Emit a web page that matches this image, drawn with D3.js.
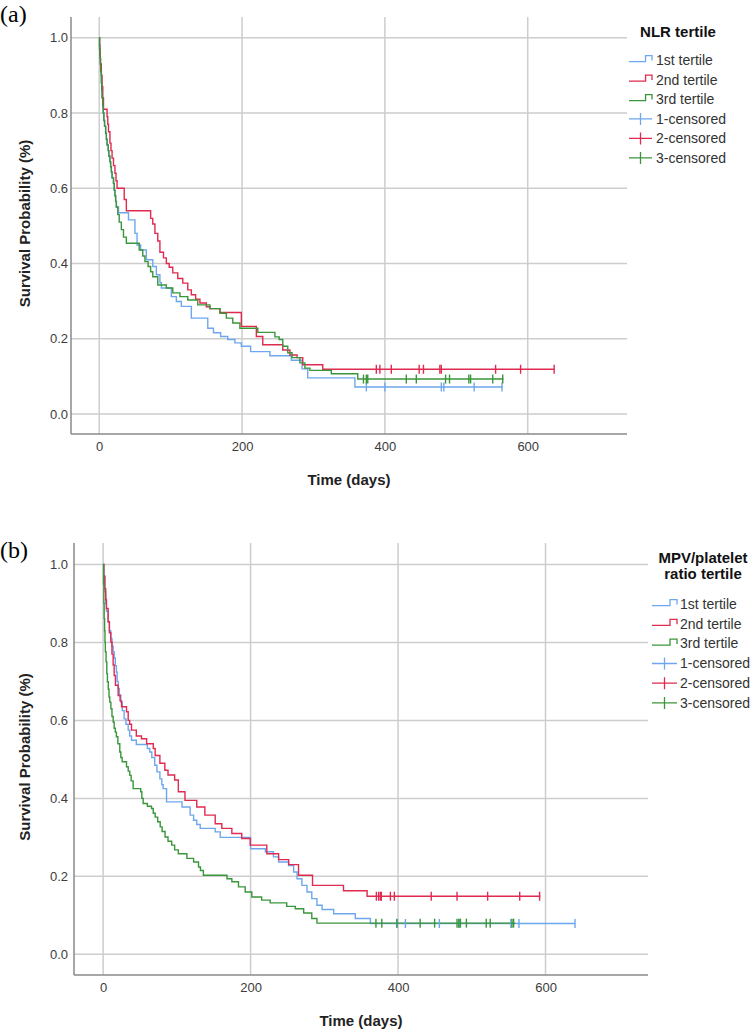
<!DOCTYPE html>
<html><head><meta charset="utf-8">
<script src="https://cdn.jsdelivr.net/npm/d3@7"></script>
<style>
html,body{margin:0;padding:0;background:#fff;}
svg{display:block;font-family:"Liberation Sans",Arial,sans-serif;}
</style></head>
<body>
<svg id="chart" width="755" height="1033"></svg>
<script>
// ---------- shared ----------
const xTicks = [0, 200, 400, 600];
const yTicks = [0.0, 0.2, 0.4, 0.6, 0.8, 1.0];
const seriesNames = ["1st tertile", "2nd tertile", "3rd tertile"];
const censorNames = ["1-censored", "2-censored", "3-censored"];
const colors = ["#6ea7ee", "#e02a50", "#3a963a"];

// ---------- panel (a): NLR tertile ----------
const aBlue = [[0,1],[0.5,0.97],[1,0.95],[1.5,0.93],[2,0.91],[3,0.88],[3.5,0.86],[4,0.84],[5,0.82],[5.6,0.80],[6.5,0.78],[7.5,0.765],[9,0.746],[10,0.73],[11,0.715],[12.6,0.70],[13.5,0.685],[15,0.67],[16,0.657],[17,0.643],[18,0.628],[20,0.613],[21,0.595],[22,0.58],[23,0.565],[24,0.55],[27,0.535],[41,0.516],[50,0.48],[53,0.449],[58,0.436],[66,0.41],[75,0.392],[80,0.37],[85,0.349],[87,0.335],[101,0.312],[108,0.299],[115,0.286],[129,0.255],[152,0.228],[160,0.216],[170,0.206],[180,0.198],[190,0.189],[199,0.18],[212,0.166],[239,0.155],[269,0.143],[284,0.12],[292,0.096],[358,0.072]];
const aRed = [[0,1],[0.5,0.98],[1,0.96],[1.5,0.945],[2,0.93],[3,0.90],[4,0.87],[5,0.84],[6,0.81],[11,0.79],[12,0.77],[13,0.75],[15,0.72],[16.5,0.70],[18,0.68],[20,0.66],[22,0.64],[23.5,0.62],[25,0.60],[35,0.57],[38,0.54],[72,0.52],[75,0.505],[78,0.48],[82,0.46],[85,0.43],[90,0.415],[94,0.40],[98,0.39],[103,0.375],[110,0.36],[117,0.348],[124,0.33],[129,0.317],[135,0.305],[141,0.295],[150,0.285],[155,0.28],[169,0.27],[199,0.233],[220,0.206],[229,0.184],[257,0.17],[267,0.157],[277,0.15],[285,0.131],[313,0.119]];
const aGreen = [[0,1],[0.5,0.97],[1,0.95],[1.5,0.93],[2,0.91],[3,0.88],[3.5,0.86],[4,0.84],[5,0.82],[5.6,0.80],[6.5,0.78],[7.5,0.765],[9,0.746],[10,0.73],[11,0.715],[12.6,0.70],[13.5,0.685],[15,0.67],[16,0.657],[17,0.643],[18,0.628],[20,0.613],[21,0.595],[22,0.58],[23,0.565],[24,0.55],[26,0.53],[28,0.51],[31,0.49],[34,0.47],[38,0.454],[56,0.436],[61,0.42],[64,0.405],[68.5,0.392],[72,0.378],[75,0.365],[82,0.343],[94,0.335],[103,0.322],[113,0.312],[124,0.303],[138,0.29],[155,0.28],[169,0.268],[178,0.255],[187,0.242],[197,0.228],[222,0.217],[246,0.205],[252,0.198],[257,0.18],[264,0.163],[270,0.15],[281,0.136],[288,0.122],[295,0.116],[325,0.107],[362,0.093]];
const aEnds = [565, 637, 566];
const aCensBlue = [374, 400, 479, 482.5, 525, 564];
const aCensRed = [388, 393, 409, 448, 454, 477, 479, 555, 590, 637];
const aCensGreen = [370, 374, 376, 430, 444, 485, 490.5, 517.5, 520, 551, 565];

// ---------- panel (b): MPV/platelet ratio tertile ----------
const bBlue = [[0,1],[1,0.97],[2.3,0.93],[3.5,0.90],[4.5,0.88],[6.8,0.853],[8.5,0.83],[10.4,0.81],[12,0.79],[13.6,0.776],[15,0.76],[16.5,0.74],[18,0.724],[19,0.70],[20.4,0.682],[22,0.665],[24,0.647],[26,0.625],[28.5,0.604],[31,0.59],[34,0.575],[36,0.56],[38.5,0.549],[45,0.538],[60,0.528],[63.3,0.519],[66,0.505],[70,0.485],[73,0.468],[77,0.45],[79.6,0.435],[81.4,0.425],[86,0.391],[107,0.378],[118,0.357],[122.7,0.344],[127,0.333],[131.7,0.323],[152,0.314],[158.8,0.30],[200,0.271],[220,0.263],[231,0.25],[238,0.237],[251.6,0.228],[258.4,0.211],[263,0.194],[269.6,0.177],[276.5,0.16],[283,0.143],[290,0.126],[297,0.115],[312.7,0.104],[342,0.092],[362.5,0.079]];
const bRed = [[0,1],[1,0.97],[2.3,0.938],[3.5,0.91],[4.5,0.887],[6.8,0.853],[8.5,0.825],[10.4,0.801],[12,0.77],[13.6,0.742],[15,0.715],[16.7,0.69],[20.4,0.664],[23,0.65],[25,0.635],[31.7,0.622],[34,0.60],[36,0.59],[38.5,0.575],[45,0.56],[52,0.553],[59,0.54],[68,0.528],[70.6,0.51],[77,0.49],[83.7,0.472],[88,0.46],[97,0.447],[102,0.417],[111,0.395],[127,0.378],[138,0.357],[152,0.335],[161,0.323],[174.6,0.31],[188,0.297],[199.5,0.28],[222,0.258],[238,0.243],[251.6,0.23],[265,0.203],[284,0.177],[326,0.163],[358,0.149]];
const bGreen = [[0,1],[0.5,0.95],[1,0.9],[1.4,0.861],[2,0.83],[2.5,0.80],[3,0.776],[4,0.75],[5,0.72],[5.8,0.699],[7,0.68],[8,0.66],[9,0.647],[10.5,0.63],[12,0.61],[13.6,0.596],[15,0.58],[16.5,0.57],[18,0.558],[20,0.54],[22.6,0.519],[24,0.505],[25.8,0.494],[31.7,0.481],[34,0.47],[36.2,0.459],[38,0.445],[40.7,0.425],[51,0.417],[52.5,0.40],[54.3,0.387],[60,0.38],[65.6,0.374],[68,0.362],[70.6,0.352],[74,0.34],[77.4,0.327],[80,0.315],[84,0.301],[88,0.29],[93,0.28],[97,0.268],[102,0.258],[113.6,0.246],[122.7,0.237],[129.4,0.224],[132,0.215],[136,0.203],[168,0.194],[174.6,0.186],[183.6,0.173],[192.7,0.16],[201.7,0.147],[215,0.139],[226.6,0.132],[249,0.123],[260.6,0.117],[272,0.106],[283,0.092],[290,0.08]];
const bEnds = [640, 593, 559];
const bCensBlue = [398.5, 410, 456, 483, 553, 564, 640];
const bCensRed = [370.6, 373.7, 376, 377.3, 389.6, 395, 445, 480, 521.5, 565, 592];
const bCensGreen = [370, 378, 398.5, 430, 449.6, 480, 482.4, 484.6, 492.7, 519.6, 525, 554.5, 556.7];

const xDomain = [-39.5, 739];
const yDomain = [-0.053, 1.055];

const svg = d3.select("#chart");

function panel(cfg) {
  const {left, right, top, bottom, series, ends, cens, label, labelY, titleLines, titleX, titleY, legX0, legW, legTextX, legBase0, legStep} = cfg;
  const x = d3.scaleLinear().domain(xDomain).range([left, right]);
  const y = d3.scaleLinear().domain(yDomain).range([bottom, top]);
  const g = svg.append("g");

  // gridlines
  g.append("g").selectAll("line").data(yTicks).join("line")
    .attr("x1", left).attr("x2", right)
    .attr("y1", d => y(d)).attr("y2", d => y(d))
    .attr("stroke", "#cdcdcd").attr("stroke-width", 1.5);
  g.append("g").selectAll("line").data(xTicks).join("line")
    .attr("x1", d => x(d)).attr("x2", d => x(d))
    .attr("y1", top).attr("y2", bottom)
    .attr("stroke", "#cdcdcd").attr("stroke-width", 1.5);

  // axes (no tick marks, labels only)
  const yAxis = d3.axisLeft(y).tickValues(yTicks).tickFormat(d3.format(".1f")).tickSize(0).tickPadding(left - 68);
  const ya = g.append("g").attr("transform", `translate(${left},0)`).call(yAxis);
  ya.select(".domain").remove();
  ya.selectAll("text").attr("font-size", 13).attr("fill", "#3c3c3c").attr("font-family", "Liberation Sans, Arial, sans-serif");
  const xAxis = d3.axisBottom(x).tickValues(xTicks).tickFormat(d3.format("d")).tickSize(0).tickPadding(8);
  const xa = g.append("g").attr("transform", `translate(0,${bottom})`).call(xAxis);
  xa.select(".domain").remove();
  xa.selectAll("text").attr("font-size", 13).attr("fill", "#3c3c3c").attr("font-family", "Liberation Sans, Arial, sans-serif");

  g.append("line").attr("x1", left).attr("x2", left).attr("y1", top).attr("y2", bottom)
    .attr("stroke", "#8a8a8a").attr("stroke-width", 1.5);
  g.append("line").attr("x1", left).attr("x2", right).attr("y1", bottom).attr("y2", bottom)
    .attr("stroke", "#8a8a8a").attr("stroke-width", 1.5);

  // axis titles
  g.append("text").attr("x", (left + right) / 2).attr("y", bottom + 51)
    .attr("text-anchor", "middle").attr("font-size", 15).attr("font-weight", "bold").attr("fill", "#222")
    .text("Time (days)");
  g.append("text").attr("transform", `translate(30,${(top + bottom) / 2 - 2}) rotate(-90)`)
    .attr("text-anchor", "middle").attr("font-size", 15).attr("font-weight", "bold").attr("fill", "#222")
    .text("Survival Probability (%)");

  // curves
  const line = d3.line().x(d => x(d[0])).y(d => y(d[1])).curve(d3.curveStepAfter);
  series.forEach((s, i) => {
    const pts = s.concat([[ends[i], s[s.length - 1][1]]]);
    g.append("path").datum(pts).attr("d", line).attr("fill", "none")
      .attr("stroke", colors[i]).attr("stroke-width", 1.4);
  });
  // censor marks
  series.forEach((s, i) => {
    const level = t => { let v = 1; for (const p of s) { if (p[0] <= t) v = p[1]; } return v; };
    const cg = g.append("g").attr("stroke", colors[i]).attr("stroke-width", 1.4);
    cg.selectAll("line.v").data(cens[i]).join("line").attr("class", "v")
      .attr("x1", d => x(d)).attr("x2", d => x(d))
      .attr("y1", d => y(level(d)) - 4.5).attr("y2", d => y(level(d)) + 4.5);
  });

  // panel label
  svg.append("text").attr("x", 0).attr("y", labelY).attr("font-family", "Liberation Serif, Times New Roman, serif")
    .attr("font-size", 24).attr("fill", "#000").text(label);

  // legend
  const lg = svg.append("g");
  titleLines.forEach((t, k) => {
    lg.append("text").attr("x", titleX).attr("y", titleY + k * 16).attr("text-anchor", "middle")
      .attr("font-size", 15).attr("font-weight", "bold").attr("fill", "#111").text(t);
  });
  const items = seriesNames.map((n, i) => ({name: n, kind: "step", c: colors[i]}))
    .concat(censorNames.map((n, i) => ({name: n, kind: "cens", c: colors[i]})));
  items.forEach((it, k) => {
    const b = legBase0 + k * legStep;
    if (it.kind === "step") {
      const x0 = legX0, x1 = legX0 + legW, xm = legX0 + legW * 0.72;
      lg.append("path").attr("d", `M${x0},${b - 3.3}H${xm}V${b - 9.3}H${x1}V${b - 4.5}`)
        .attr("fill", "none").attr("stroke", it.c).attr("stroke-width", 1.3);
    } else {
      const xc = legX0 + legW / 2;
      lg.append("path").attr("d", `M${legX0},${b - 4.6}H${legX0 + legW}M${xc},${b - 10.6}V${b + 1.4}`)
        .attr("fill", "none").attr("stroke", it.c).attr("stroke-width", 1.3);
    }
    lg.append("text").attr("x", legTextX).attr("y", b).attr("font-size", 14).attr("fill", "#333").text(it.name);
  });
}

panel({left: 71, right: 627, top: 17, bottom: 434,
  series: [aBlue, aRed, aGreen], ends: aEnds, cens: [aCensBlue, aCensRed, aCensGreen],
  label: "(a)", labelY: 22, titleLines: ["NLR tertile"], titleX: 678, titleY: 37,
  legX0: 629, legW: 23, legTextX: 656, legBase0: 65, legStep: 19.5});

panel({left: 74, right: 648, top: 543, bottom: 975,
  series: [bBlue, bRed, bGreen], ends: bEnds, cens: [bCensBlue, bCensRed, bCensGreen],
  label: "(b)", labelY: 558, titleLines: ["MPV/platelet", "ratio tertile"], titleX: 703, titleY: 563,
  legX0: 652, legW: 25, legTextX: 680, legBase0: 609, legStep: 19.7});
</script>
</body></html>
